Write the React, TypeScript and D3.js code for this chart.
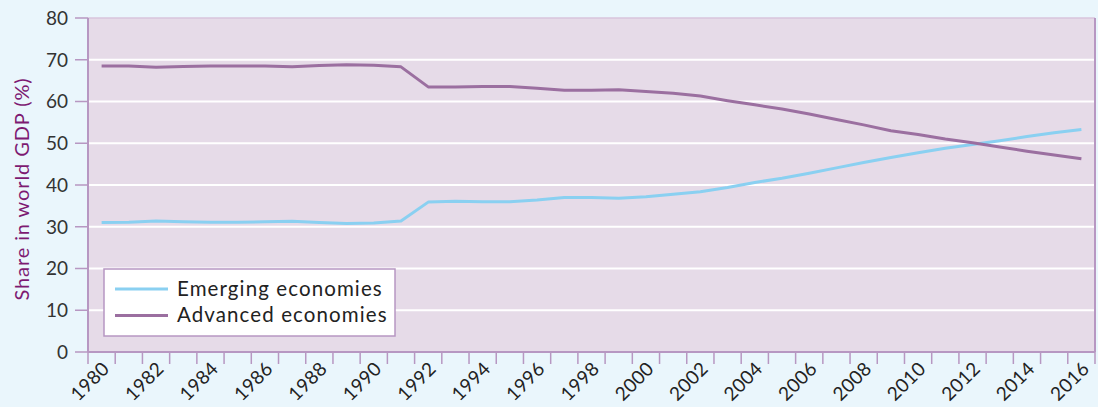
import React, { useEffect, useRef } from "react";
import * as d3 from "d3";

const years = d3.range(1980, 2017);

const emerging = [
  31.0, 31.1, 31.4, 31.2, 31.1, 31.1, 31.2, 31.3, 31.0, 30.8, 30.9, 31.4,
  35.9, 36.1, 36.0, 36.0, 36.4, 37.0, 37.0, 36.8, 37.2, 37.8, 38.4, 39.4,
  40.6, 41.6, 42.8, 44.1, 45.4, 46.6, 47.7, 48.8, 49.7, 50.6, 51.6, 52.5,
  53.3,
];

const advanced = [
  68.5, 68.5, 68.2, 68.4, 68.5, 68.5, 68.5, 68.3, 68.6, 68.8, 68.7, 68.3,
  63.5, 63.5, 63.6, 63.6, 63.2, 62.7, 62.7, 62.8, 62.4, 62.0, 61.3, 60.2,
  59.2, 58.2, 57.0, 55.7, 54.4, 53.0, 52.1, 51.0, 50.1, 49.1, 48.1, 47.2,
  46.3,
];

const yTicks = [0, 10, 20, 30, 40, 50, 60, 70, 80];
const labelYears = years.filter((y) => y % 2 === 0);

const series = [
  { name: "Emerging economies", values: emerging, color: "#8ad0f1" },
  { name: "Advanced economies", values: advanced, color: "#9b6fa0" },
];

const width = 1098;
const height = 407;
const margin = { top: 18, right: 3, bottom: 55, left: 88 };
const font = "Lato, 'Open Sans', sans-serif";
const axisColor = "#b797c2";

const App = () => {
  const ref = useRef<SVGSVGElement | null>(null);

  useEffect(() => {
    const svg = d3.select(ref.current);
    svg.selectAll("*").remove();

    const x = d3
      .scaleLinear()
      .domain([1979.5, 2016.5])
      .range([margin.left, width - margin.right]);

    const y = d3
      .scaleLinear()
      .domain([0, 80])
      .range([height - margin.bottom, margin.top]);

    svg
      .append("rect")
      .attr("width", width)
      .attr("height", height)
      .attr("fill", "#eaf6fc");

    svg
      .append("rect")
      .attr("x", x(1979.5))
      .attr("y", y(80))
      .attr("width", x(2016.5) - x(1979.5))
      .attr("height", y(0) - y(80))
      .attr("fill", "#e6dbe8");

    // gridlines
    svg
      .append("g")
      .selectAll("line")
      .data(yTicks.filter((t) => t > 0 && t < 80))
      .join("line")
      .attr("x1", x(1979.5))
      .attr("x2", x(2016.5))
      .attr("y1", (d) => y(d))
      .attr("y2", (d) => y(d))
      .attr("stroke", "#ffffff")
      .attr("stroke-width", 2);

    // top border
    svg
      .append("line")
      .attr("x1", x(1979.5))
      .attr("x2", x(2016.5))
      .attr("y1", y(80))
      .attr("y2", y(80))
      .attr("stroke", "#d9c5dd")
      .attr("stroke-width", 1.5);

    // y axis
    const yAxis = svg.append("g");
    yAxis
      .selectAll("line")
      .data(yTicks)
      .join("line")
      .attr("x1", x(1979.5) - 13)
      .attr("x2", x(1979.5))
      .attr("y1", (d) => y(d))
      .attr("y2", (d) => y(d))
      .attr("stroke", axisColor)
      .attr("stroke-width", 1.5);
    yAxis
      .selectAll("text")
      .data(yTicks)
      .join("text")
      .attr("x", x(1979.5) - 20)
      .attr("y", (d) => y(d))
      .attr("dy", "0.36em")
      .attr("text-anchor", "end")
      .attr("font-family", font)
      .attr("font-size", 19)
      .attr("fill", "#333333")
      .text((d) => d);

    // x axis ticks at year boundaries
    const xAxis = svg.append("g");
    xAxis
      .selectAll("line")
      .data(d3.range(1979.5, 2017, 1))
      .join("line")
      .attr("x1", (d) => x(d))
      .attr("x2", (d) => x(d))
      .attr("y1", y(0))
      .attr("y2", y(0) + 12)
      .attr("stroke", axisColor)
      .attr("stroke-width", 1.5);
    xAxis
      .selectAll("text")
      .data(labelYears)
      .join("text")
      .attr(
        "transform",
        (d) => `translate(${x(d) + 9},${y(0) + 18}) rotate(-45)`
      )
      .attr("text-anchor", "end")
      .attr("font-family", font)
      .attr("font-size", 19)
      .attr("letter-spacing", 0.3)
      .attr("fill", "#222222")
      .text((d) => d);

    // axis lines
    svg
      .append("line")
      .attr("x1", x(1979.5))
      .attr("x2", x(2016.5))
      .attr("y1", y(0))
      .attr("y2", y(0))
      .attr("stroke", axisColor)
      .attr("stroke-width", 2);
    svg
      .append("line")
      .attr("x1", x(1979.5))
      .attr("x2", x(1979.5))
      .attr("y1", y(80))
      .attr("y2", y(0))
      .attr("stroke", axisColor)
      .attr("stroke-width", 2);
    svg
      .append("line")
      .attr("x1", x(2016.5))
      .attr("x2", x(2016.5))
      .attr("y1", y(80))
      .attr("y2", y(0))
      .attr("stroke", axisColor)
      .attr("stroke-width", 2);

    // y title
    svg
      .append("text")
      .attr(
        "transform",
        `translate(29,${(y(0) + y(80)) / 2 + 4}) rotate(-90)`
      )
      .attr("text-anchor", "middle")
      .attr("font-family", font)
      .attr("font-size", 20)
      .attr("letter-spacing", 0.9)
      .attr("fill", "#7d1a72")
      .text("Share in world GDP (%)");

    // lines
    const line = d3
      .line<number>()
      .x((d, i) => x(years[i]))
      .y((d) => y(d));

    series.forEach((s) => {
      svg
        .append("path")
        .datum(s.values)
        .attr("fill", "none")
        .attr("stroke", s.color)
        .attr("stroke-width", 3)
        .attr("stroke-linejoin", "round")
        .attr("d", line);
    });

    // legend
    const legend = svg.append("g").attr("transform", "translate(104,269)");
    legend
      .append("rect")
      .attr("width", 291)
      .attr("height", 67)
      .attr("fill", "#ffffff")
      .attr("stroke", axisColor)
      .attr("stroke-width", 1.5);
    series.forEach((s, i) => {
      legend
        .append("line")
        .attr("x1", 11)
        .attr("x2", 64)
        .attr("y1", 20 + i * 26.5)
        .attr("y2", 20 + i * 26.5)
        .attr("stroke", s.color)
        .attr("stroke-width", 3);
      legend
        .append("text")
        .attr("x", 73)
        .attr("y", 27 + i * 26)
        .attr("font-family", font)
        .attr("font-size", 20.5)
        .attr("letter-spacing", 1.1)
        .attr("fill", "#222222")
        .text(s.name);
    });
  }, []);

  return (
    <svg
      ref={ref}
      width={width}
      height={height}
      style={{ position: "absolute", left: 0, top: 0, display: "block" }}
    />
  );
};

export default App;
